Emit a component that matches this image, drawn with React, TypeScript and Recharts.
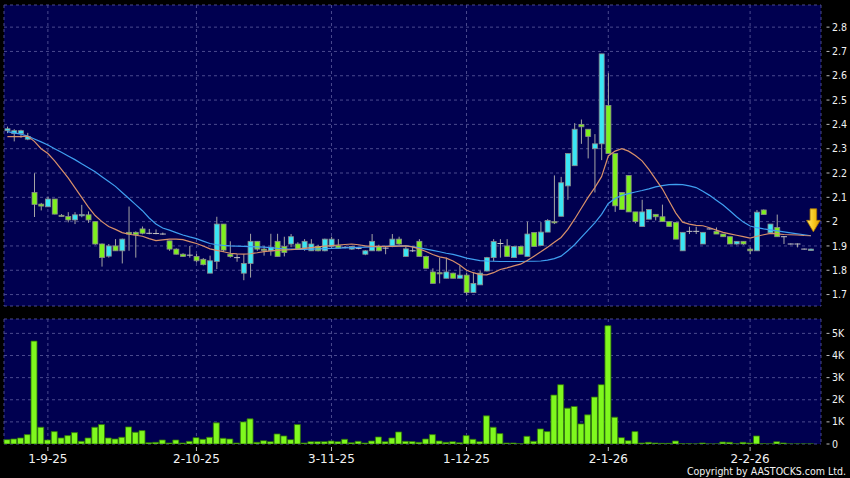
import React from "react";
import {
  ComposedChart,
  Bar,
  Line,
  XAxis,
  YAxis,
  CartesianGrid,
  ReferenceDot,
} from "recharts";

// ---- trading days (HK) ----
const AUG_25 = [22, 25, 26, 27, 28, 29];
const SEP_25 = [1, 2, 3, 4, 5, 8, 9, 10, 11, 12, 15, 16, 17, 18, 19, 22, 23, 24, 25, 26, 29, 30];
const OCT_25 = [2, 3, 6, 8, 9, 10, 13, 14, 15, 16, 17, 20, 21, 22, 23, 24, 27, 28, 30, 31];
const NOV_25 = [3, 4, 5, 6, 7, 10, 11, 12, 13, 14, 17, 18, 19, 20, 21, 24, 25, 26, 27, 28];
const DEC_25 = [1, 2, 3, 4, 5, 8, 9, 10, 11, 12, 15, 16, 17, 18, 19, 22, 23, 24, 29, 30, 31];
const JAN_26 = [2, 5, 6, 7, 8, 9, 12, 13, 14, 15, 16, 19, 20, 21, 22, 23, 26, 27, 28, 29, 30];
const FEB_26 = [2, 3, 4, 5, 6, 9, 10, 11, 12, 13];

const DATES: string[] = [
  ...AUG_25.map((d) => `${d}-8-25`),
  ...SEP_25.map((d) => `${d}-9-25`),
  ...OCT_25.map((d) => `${d}-10-25`),
  ...NOV_25.map((d) => `${d}-11-25`),
  ...DEC_25.map((d) => `${d}-12-25`),
  ...JAN_26.map((d) => `${d}-1-26`),
  ...FEB_26.map((d) => `${d}-2-26`),
];

const TICK_DATES = ["1-9-25", "2-10-25", "3-11-25", "1-12-25", "2-1-26", "2-2-26"];
const PRICE_TICKS = [1.7, 1.8, 1.9, 2.0, 2.1, 2.2, 2.3, 2.4, 2.5, 2.6, 2.7, 2.8];
const VOLUME_TICKS = [0, 1000, 2000, 3000, 4000, 5000];

const OPEN = [
  2.374, 2.362, 2.362, 2.339, 2.12, 2.072, 2.061, 2.093, 2.026, 2.021,
  2.007, 2.028, 2.028, 2.0, 1.908, 1.858, 1.9, 1.88, 1.956, 1.956,
  1.97, 1.952, 1.951, 1.949, 1.921, 1.887, 1.866, 1.862, 1.857, 1.845,
  1.788, 1.836, 1.99, 1.866, 1.852, 1.788, 1.828, 1.919, 1.887, 1.88,
  1.919, 1.898, 1.908, 1.908, 1.891, 1.88, 1.898, 1.88, 1.898, 1.901,
  1.894, 1.887, 1.89, 1.866, 1.88, 1.898, 1.891, 1.898, 1.928, 1.857,
  1.88, 1.919, 1.857, 1.793, 1.79, 1.767, 1.788, 1.767, 1.78, 1.708,
  1.74, 1.797, 1.852, 1.91, 1.9, 1.852, 1.898, 1.857, 1.955, 1.902,
  1.957, 2.0, 2.022, 2.147, 2.23, 2.4, 2.38, 2.3, 2.32, 2.478,
  2.28, 2.12, 2.19, 2.04, 1.98, 2.01, 2.03, 2.02, 2.0, 1.997,
  1.88, 1.96, 1.96, 1.908, 1.97, 1.96, 1.949, 1.938, 1.908, 1.919,
  1.887, 1.88, 2.048, 1.954, 1.976, 1.938, 1.908, 1.908, 1.887, 1.881,
];
const HIGH = [
  2.391, 2.38, 2.378, 2.365, 2.199, 2.077, 2.103, 2.093, 2.031, 2.039,
  2.039, 2.069, 2.042, 2.0, 1.91, 1.908, 1.928, 1.93, 2.062, 1.96,
  1.98, 1.97, 1.968, 1.955, 1.921, 1.89, 1.87, 1.9, 1.867, 1.85,
  1.86, 2.02, 1.99, 1.919, 1.866, 1.866, 1.95, 1.919, 1.9, 1.95,
  1.95, 1.938, 1.949, 1.915, 1.928, 1.928, 1.905, 1.93, 1.938, 1.928,
  1.9, 1.9, 1.894, 1.883, 1.949, 1.905, 1.895, 1.949, 1.938, 1.898,
  1.898, 1.928, 1.86, 1.808, 1.852, 1.852, 1.79, 1.82, 1.79, 1.79,
  1.798, 1.855, 1.928, 1.928, 1.928, 1.9, 1.9, 2.0, 1.955, 1.998,
  2.01, 2.19, 2.184, 2.28, 2.405, 2.42, 2.38, 2.36, 2.69, 2.61,
  2.28, 2.12, 2.19, 2.04, 2.09, 2.05, 2.03, 2.07, 2.0, 1.997,
  1.956, 1.979, 1.979, 1.956, 1.972, 1.976, 1.949, 1.938, 1.919, 1.919,
  1.894, 2.048, 2.05, 1.99, 2.029, 1.94, 1.91, 1.91, 1.889, 1.889,
];
const LOW = [
  2.364, 2.33, 2.345, 2.335, 2.019, 2.046, 2.061, 2.03, 2.02, 1.997,
  1.99, 2.018, 1.995, 1.905, 1.815, 1.852, 1.88, 1.828, 1.88, 1.852,
  1.948, 1.948, 1.948, 1.946, 1.88, 1.865, 1.855, 1.852, 1.832, 1.82,
  1.788, 1.805, 1.875, 1.852, 1.835, 1.759, 1.77, 1.88, 1.86, 1.86,
  1.857, 1.857, 1.895, 1.885, 1.88, 1.88, 1.878, 1.878, 1.888, 1.889,
  1.89, 1.884, 1.886, 1.862, 1.88, 1.878, 1.866, 1.895, 1.905, 1.857,
  1.875, 1.857, 1.808, 1.746, 1.746, 1.767, 1.767, 1.767, 1.698, 1.708,
  1.74, 1.795, 1.838, 1.852, 1.857, 1.852, 1.866, 1.857, 1.898, 1.902,
  1.957, 1.99, 2.022, 2.09, 2.23, 2.32, 2.26, 2.12, 2.253, 2.28,
  2.04, 2.05, 2.04, 1.993, 1.98, 2.01, 2.005, 2.0, 1.98, 1.928,
  1.88, 1.949, 1.949, 1.908, 1.968, 1.949, 1.938, 1.908, 1.905, 1.905,
  1.866, 1.88, 2.029, 1.954, 1.938, 1.908, 1.906, 1.894, 1.885, 1.88,
];
const CLOSE = [
  2.382, 2.374, 2.374, 2.35, 2.071, 2.064, 2.093, 2.031, 2.024, 2.007,
  2.028, 2.029, 2.007, 1.908, 1.852, 1.9, 1.88, 1.928, 1.949, 1.946,
  1.952, 1.952, 1.951, 1.949, 1.887, 1.866, 1.857, 1.862, 1.839, 1.823,
  1.839, 1.99, 1.883, 1.857, 1.852, 1.828, 1.919, 1.887, 1.881, 1.895,
  1.857, 1.873, 1.938, 1.887, 1.919, 1.908, 1.88, 1.928, 1.928, 1.891,
  1.894, 1.898, 1.89, 1.88, 1.919, 1.88, 1.891, 1.928, 1.908, 1.888,
  1.88, 1.857, 1.808, 1.746, 1.787, 1.793, 1.767, 1.78, 1.708, 1.746,
  1.788, 1.852, 1.918, 1.91, 1.857, 1.898, 1.866, 1.949, 1.898, 1.957,
  2.005, 1.995, 2.16, 2.28, 2.38, 2.39, 2.35, 2.32, 2.69, 2.28,
  2.065, 2.05, 2.04, 2.0, 2.04, 2.05, 2.02, 2.0, 1.98, 1.928,
  1.956, 1.96, 1.96, 1.956, 1.97, 1.949, 1.938, 1.908, 1.919, 1.908,
  1.88, 2.039, 2.029, 1.99, 1.938, 1.938, 1.908, 1.908, 1.887, 1.887,
];
// volume in thousands of shares (axis shows K)
const VOLUME = [
  197, 227, 273, 424, 4650, 758, 182, 560, 273, 379,
  515, 121, 273, 758, 879, 273, 227, 303, 773, 530,
  606, 61, 76, 182, 45, 182, 45, 121, 288, 212,
  303, 955, 258, 227, 45, 1000, 1136, 76, 152, 106,
  455, 364, 197, 879, 45, 106, 106, 106, 136, 106,
  212, 61, 121, 45, 136, 318, 106, 273, 545, 121,
  110, 76, 227, 424, 136, 76, 106, 61, 379, 212,
  106, 1273, 758, 470, 45, 45, 15, 348, 121, 682,
  561, 2212, 2682, 1621, 1697, 909, 1318, 2121, 2682, 5348,
  1212, 288, 152, 561, 45, 76, 45, 30, 30, 136,
  15, 10, 5, 45, 5, 5, 91, 76, 10, 76,
  45, 364, 10, 5, 106, 45, 5, 5, 3, 5,
];
const MA_FAST = [
  2.35, 2.35, 2.35, 2.352, 2.33, 2.3, 2.28, 2.25, 2.215, 2.18,
  2.14, 2.1, 2.06, 2.025, 2.0, 1.98, 1.968, 1.955, 1.948, 1.944,
  1.94, 1.93, 1.922, 1.925, 1.928, 1.928, 1.926, 1.918, 1.91, 1.9,
  1.888, 1.882, 1.876, 1.87, 1.867, 1.866, 1.868, 1.872, 1.877, 1.88,
  1.882, 1.884, 1.885, 1.887, 1.89, 1.893, 1.896, 1.899, 1.901, 1.904,
  1.906, 1.908, 1.905, 1.9, 1.898, 1.898, 1.898, 1.898, 1.899, 1.9,
  1.896, 1.888, 1.877, 1.865, 1.855, 1.85, 1.838, 1.822, 1.8, 1.79,
  1.782, 1.781, 1.79, 1.803, 1.81, 1.818, 1.825, 1.84, 1.858, 1.876,
  1.895, 1.915, 1.935, 1.968, 2.01, 2.055, 2.1, 2.14, 2.185, 2.27,
  2.29, 2.3, 2.29, 2.272, 2.25, 2.215, 2.175, 2.135, 2.085, 2.035,
  1.998, 1.99, 1.985, 1.983, 1.975, 1.965, 1.956, 1.95, 1.944, 1.938,
  1.932, 1.94, 1.946, 1.952, 1.95, 1.947, 1.946, 1.945, 1.943, 1.942,
];
const MA_SLOW = [
  2.37, 2.365, 2.36, 2.352, 2.34, 2.328, 2.315, 2.3, 2.285, 2.27,
  2.255, 2.238, 2.222, 2.205, 2.185, 2.165, 2.145, 2.12, 2.095, 2.07,
  2.045, 2.015, 1.99, 1.974, 1.965, 1.955, 1.945, 1.937, 1.93, 1.92,
  1.91, 1.905, 1.902, 1.9, 1.899, 1.898, 1.897, 1.896, 1.895, 1.893,
  1.89, 1.888, 1.887, 1.886, 1.886, 1.887, 1.888, 1.889, 1.89, 1.891,
  1.892, 1.893, 1.894, 1.895, 1.896, 1.897, 1.898, 1.899, 1.9, 1.9,
  1.897, 1.892, 1.887, 1.882, 1.876, 1.87, 1.865, 1.858, 1.85, 1.845,
  1.84, 1.838, 1.837, 1.836, 1.836, 1.836, 1.836, 1.837, 1.837, 1.838,
  1.842, 1.848, 1.858, 1.88, 1.905, 1.935, 1.965, 1.995, 2.03, 2.075,
  2.095, 2.108, 2.115, 2.122, 2.128, 2.135, 2.143, 2.148, 2.152, 2.153,
  2.152, 2.147, 2.14, 2.125, 2.108, 2.088, 2.068, 2.045, 2.02, 1.998,
  1.982, 1.975, 1.97, 1.966, 1.962, 1.958, 1.954, 1.95, 1.946, 1.942,
];

const ARROW_DATE = DATES[DATES.length - 1];
const ARROW_PRICE = 1.958;

const data = DATES.map((date, i) => ({
  date,
  open: OPEN[i],
  high: HIGH[i],
  low: LOW[i],
  close: CLOSE[i],
  range: [LOW[i], HIGH[i]],
  vol: VOLUME[i],
  maFast: MA_FAST[i],
  maSlow: MA_SLOW[i],
}));

// ---- style ----
const W = 850;
const PLOT_BG = "#000050";
const GRID = "#4a4a8e";
const UP = "#3ae6f4";
const DOWN = "#7ef01e";
const WICK = "#a4a4a4";
const VOL = "#7ff81e";
const TEXT = "#f2f2f2";
const FONT_C = "'DejaVu Sans Condensed', 'DejaVu Sans', sans-serif";
const FONT = "'DejaVu Sans', sans-serif";
const X_PAD = { left: 0, right: 6.75 };

const Candle = (props: any) => {
  const { x, y, width, height, payload } = props;
  if (!payload || payload.open == null) return null;
  const { open, high, low, close } = payload;
  const cx = x + width / 2;
  const h = Math.abs(height);
  const top = height >= 0 ? y : y + height;
  const span = high - low;
  const pix = (v: number) => (span > 0 ? top + ((high - v) / span) * h : top);
  const yO = pix(open);
  const yC = pix(close);
  const bTop = Math.min(yO, yC);
  const bBot = Math.max(yO, yC);
  const flat = open === close;
  return (
    <g>
      <line x1={cx} x2={cx} y1={top} y2={top + h} stroke={WICK} strokeWidth={1} />
      {flat ? (
        <line x1={cx - 3} x2={cx + 3} y1={yO} y2={yO} stroke="#c4c4c4" strokeWidth={1} />
      ) : (
        <rect
          x={cx - 2.5}
          y={bTop}
          width={5}
          height={Math.max(bBot - bTop, 1.2)}
          fill={close > open ? UP : DOWN}
          stroke="#8c8c8c"
          strokeWidth={0.8}
        />
      )}
    </g>
  );
};

const Arrow = (props: any) => {
  const { cx, cy } = props;
  if (cx == null || cy == null) return null;
  const x = cx + 2.5;
  const t = cy;
  const pts = [
    [x - 3.3, t - 23],
    [x + 3.3, t - 23],
    [x + 3.3, t - 11.5],
    [x + 6.8, t - 11.5],
    [x, t],
    [x - 6.8, t - 11.5],
    [x - 3.3, t - 11.5],
  ]
    .map((p) => p.join(","))
    .join(" ");
  return (
    <g>
      <defs>
        <linearGradient id="arrowGrad" x1="0" y1="0" x2="1" y2="0">
          <stop offset="0%" stopColor="#ffe86a" />
          <stop offset="55%" stopColor="#f7c81c" />
          <stop offset="100%" stopColor="#d89a00" />
        </linearGradient>
      </defs>
      <polygon points={pts} fill="url(#arrowGrad)" stroke="#b07a00" strokeWidth={0.8} />
    </g>
  );
};

const makeRightTick = (fmt: (v: number) => string) => (props: any) => {
  const { x, y, payload } = props;
  return (
    <g>
      <line x1={x + 5.5} x2={x + 8.5} y1={y} y2={y} stroke="#bdbdbd" strokeWidth={1} />
      <text x={x + 11} y={y} dy={3.6} fill={TEXT} fontSize={10.5} fontFamily={FONT_C} textAnchor="start">
        {fmt(payload.value)}
      </text>
    </g>
  );
};

const PriceTick = makeRightTick((v) => String(Number(v.toFixed(1))));
const VolTick = makeRightTick((v) => (v === 0 ? "0" : `${Math.round(v / 1000)}K`));

const DateTick = (props: any) => {
  const { x, y, payload } = props;
  return (
    <g>
      <line x1={x} x2={x} y1={y + 3} y2={y + 7} stroke="#bdbdbd" strokeWidth={1} />
      <text x={x} y={y + 18.5} fill={TEXT} fontSize={12} fontFamily={FONT} textAnchor="middle">
        {payload.value}
      </text>
    </g>
  );
};

export default function App() {
  return (
    <div
      style={{
        position: "fixed",
        left: 0,
        top: 0,
        width: W,
        height: 478,
        background: "#000",
        fontFamily: FONT,
        overflow: "hidden",
      }}
    >
      <div style={{ position: "absolute", left: 0, top: 0 }}>
        <ComposedChart
          width={W}
          height={310}
          data={data}
          margin={{ top: 5, right: 0, bottom: 4, left: 4 }}
        >
          <CartesianGrid fill={PLOT_BG} stroke={GRID} strokeDasharray="3 3" />
          <XAxis dataKey="date" hide padding={X_PAD} ticks={TICK_DATES} interval={0} />
          <YAxis
            orientation="right"
            width={29}
            domain={[1.653, 2.891]}
            ticks={PRICE_TICKS}
            type="number"
            allowDataOverflow
            axisLine={false}
            tickLine={false}
            tickSize={0}
            tickMargin={0}
            tick={<PriceTick />}
            interval={0}
          />
          <Bar dataKey="range" barSize={5} shape={<Candle />} isAnimationActive={false} />
          <Line
            dataKey="maSlow"
            stroke="#3f9ff0"
            strokeWidth={1.2}
            dot={false}
            type="linear"
            isAnimationActive={false}
          />
          <Line
            dataKey="maFast"
            stroke="#d8906a"
            strokeWidth={1.2}
            dot={false}
            type="linear"
            isAnimationActive={false}
          />
          <ReferenceDot x={ARROW_DATE} y={ARROW_PRICE} shape={<Arrow />} />
        </ComposedChart>
      </div>

      <div style={{ position: "absolute", left: 0, top: 312 }}>
        <ComposedChart
          width={W}
          height={166}
          data={data}
          margin={{ top: 7, right: 0, bottom: 0, left: 4 }}
        >
          <CartesianGrid fill={PLOT_BG} stroke={GRID} strokeDasharray="3 3" />
          <XAxis
            dataKey="date"
            ticks={TICK_DATES}
            interval={0}
            padding={X_PAD}
            height={34}
            axisLine={false}
            tickLine={false}
            tickSize={0}
            tickMargin={0}
            tick={<DateTick />}
          />
          <YAxis
            orientation="right"
            width={29}
            domain={[0, 5650]}
            ticks={VOLUME_TICKS}
            type="number"
            allowDataOverflow
            axisLine={false}
            tickLine={false}
            tickSize={0}
            tickMargin={0}
            tick={<VolTick />}
            interval={0}
          />
          <Bar
            dataKey="vol"
            barSize={6}
            fill={VOL}
            stroke="#2e7408"
            strokeWidth={0.8}
            isAnimationActive={false}
          />
        </ComposedChart>
      </div>

      <div
        style={{
          position: "absolute",
          right: 4,
          top: 464,
          color: TEXT,
          fontSize: 10.5,
          fontFamily: FONT_C,
          lineHeight: "14px",
          whiteSpace: "nowrap",
        }}
      >
        Copyright by AASTOCKS.com Ltd.
      </div>
    </div>
  );
}
